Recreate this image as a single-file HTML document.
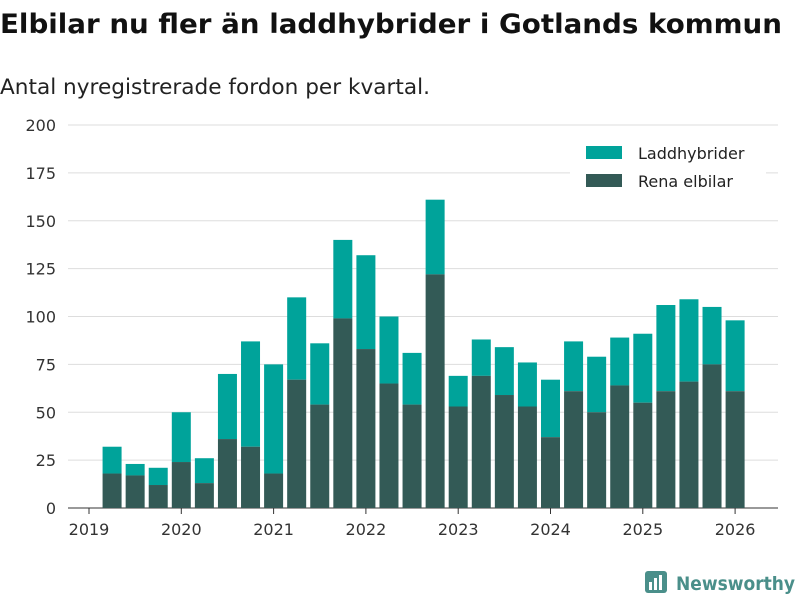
<!DOCTYPE html>
<html><head><meta charset="utf-8"><style>
body{margin:0;background:#fff;font-family:"Liberation Sans","DejaVu Sans",sans-serif;}
</style></head><body>
<svg width="800" height="600" xmlns="http://www.w3.org/2000/svg" id="chart">
<text x="0" y="33" font-size="27" font-weight="bold" fill="#111" font-family="DejaVu Sans, sans-serif" textLength="782" lengthAdjust="spacingAndGlyphs">Elbilar nu fler än laddhybrider i Gotlands kommun</text>
<text x="0" y="94" font-size="21" fill="#222" font-family="DejaVu Sans, sans-serif" textLength="430" lengthAdjust="spacingAndGlyphs">Antal nyregistrerade fordon per kvartal.</text>
<g id="grid"></g><g id="bars"></g><g id="axes"></g>
<g>
<rect x="570" y="140" width="196" height="60" fill="#fff"/>
<rect x="586" y="146" width="36" height="13" fill="#00a39a"/>
<text x="638" y="159" font-size="16" fill="#222" font-family="DejaVu Sans, sans-serif">Laddhybrider</text>
<rect x="586" y="174" width="36" height="13" fill="#335a56"/>
<text x="638" y="187" font-size="16" fill="#222" font-family="DejaVu Sans, sans-serif">Rena elbilar</text>
</g>
<g>
<rect x="645" y="571" width="22" height="22" rx="3" fill="#4a8f8a"/>
<rect x="649" y="582" width="3" height="8" fill="#fff"/><rect x="654" y="578" width="3" height="12" fill="#fff"/><rect x="659" y="575" width="3" height="15" fill="#fff"/>
<text x="676" y="590" font-size="19" font-weight="bold" fill="#4a8f8a" font-family="DejaVu Sans, sans-serif" textLength="119" lengthAdjust="spacingAndGlyphs">Newsworthy</text>
</g>
</svg>
<script>
const yTicks=[0,25,50,75,100,125,150,175,200];
const years=[2019,2020,2021,2022,2023,2024,2025,2026];
const quarters=[2019.25,2019.5,2019.75,2020,2020.25,2020.5,2020.75,2021,2021.25,2021.5,2021.75,2022,2022.25,2022.5,2022.75,2023,2023.25,2023.5,2023.75,2024,2024.25,2024.5,2024.75,2025,2025.25,2025.5,2025.75,2026];
const totals=[32,23,21,50,26,70,87,75,110,86,140,132,100,81,161,69,88,84,76,67,87,79,89,91,106,109,105,98];
const elbilar=[18,17,12,24,13,36,32,18,67,54,99,83,65,54,122,53,69,59,53,37,61,50,64,55,61,66,75,61];
const NS="http://www.w3.org/2000/svg";
const y=v=>508-v*383/200;
const x=t=>89+(t-2019)*92.3;
function mk(tag,attrs,parent){const e=document.createElementNS(NS,tag);for(const k in attrs)e.setAttribute(k,attrs[k]);document.getElementById(parent).appendChild(e);return e;}
yTicks.forEach(v=>{
  const l=mk('line',{x1:68,x2:778,y1:y(v),y2:y(v),stroke:v===0?'#333':'#ddd','stroke-width':1},'grid');
  
  
  const t=mk('text',{x:56,y:y(v)+6,'font-size':16,fill:'#333','text-anchor':'end','font-family':'DejaVu Sans, sans-serif'},'axes');
  t.textContent=v;
  
  
});
years.forEach(yr=>{
  const tk=mk('line',{x1:x(yr),x2:x(yr),y1:508,y2:514,stroke:'#333'},'axes');
  
  
  const t=mk('text',{x:x(yr),y:535,'font-size':16,fill:'#333','text-anchor':'middle','font-family':'DejaVu Sans, sans-serif'},'axes');
  t.textContent=yr;
  
  
});
quarters.forEach((q,i)=>{
  const cx=x(q),w=19;
  const a=mk('rect',{x:cx-w/2,y:y(totals[i]),width:w,height:y(elbilar[i])-y(totals[i]),fill:'#00a39a'},'bars');
  
  
  const b=mk('rect',{x:cx-w/2,y:y(elbilar[i]),width:w,height:508-y(elbilar[i]),fill:'#335a56'},'bars');
  
  
});
</script>
</body></html>
